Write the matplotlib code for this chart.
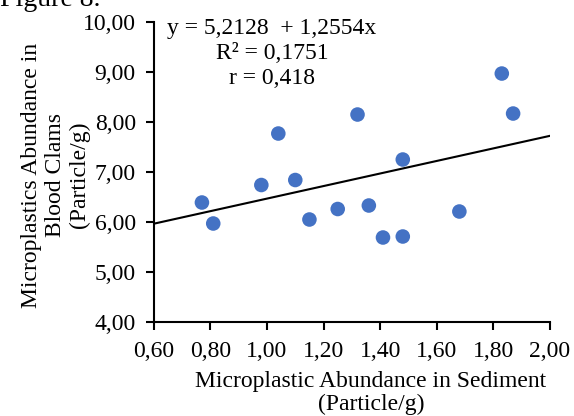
import matplotlib.pyplot as plt
import numpy as np
from matplotlib.ticker import FuncFormatter

plt.rcParams['font.family'] = ['Liberation Serif', 'DejaVu Serif']

# microplastic abundance, sediment (x) vs blood clams (y)
sediment = [0.77, 0.81, 0.98, 1.04, 1.10, 1.15, 1.25, 1.32, 1.36, 1.41, 1.48, 1.48, 1.68, 1.83, 1.87]
clams = [6.39, 5.97, 6.74, 7.77, 6.84, 6.05, 6.26, 8.15, 6.33, 5.69, 7.25, 5.71, 6.21, 8.97, 8.17]

intercept = 5.2128
slope = 1.2554
eq_lines = ["y = 5,2128  + 1,2554x", "R² = 0,1751", "r = 0,418"]

xticks = [0.6, 0.8, 1.0, 1.2, 1.4, 1.6, 1.8, 2.0]
yticks = [4, 5, 6, 7, 8, 9, 10]

fig = plt.figure(figsize=(5.74, 4.16), dpi=100)
ax = fig.add_axes([0.268, 0.226, 0.690, 0.721])

ax.scatter(sediment, clams, s=110, color='#4472C4', zorder=3, edgecolors='none')
xl = np.array([0.6, 2.0])
ax.plot(xl, intercept + slope * xl, color='black', lw=1.5, zorder=2)

ax.set_xlim(0.6, 2.0)
ax.set_ylim(4, 10)
ax.set_xticks(xticks)
ax.set_yticks(yticks)
comma = FuncFormatter(lambda v, p: ('%.2f' % v).replace('.', ','))
ax.xaxis.set_major_formatter(comma)
ax.yaxis.set_major_formatter(comma)
for s in ['top', 'right']:
    ax.spines[s].set_visible(False)
for s in ['left', 'bottom']:
    ax.spines[s].set_linewidth(1.5)
ax.tick_params(direction='out', length=6, width=1.5, labelsize=17, pad=8)
ax.tick_params(axis='y', pad=7)

ax.set_xlabel("Microplastic Abundance in Sediment\n(Particle/g)", fontsize=17, linespacing=1.15)
ax.xaxis.set_label_coords(0.548, -0.163)
ax.set_ylabel("Microplastics Abundance in\nBlood Clams\n(Particle/g)", fontsize=17, linespacing=1.2)
ax.yaxis.set_label_coords(-0.16, 0.49)

ax.text(0.298, 1.015, "\n".join(eq_lines), transform=ax.transAxes, ha='center', va='top',
        fontsize=17, linespacing=1.25)

fig.text(0.0, 1.0, "Figure 8.", fontsize=20, va='center', ha='left')

fig.savefig('out.png', dpi=100)
